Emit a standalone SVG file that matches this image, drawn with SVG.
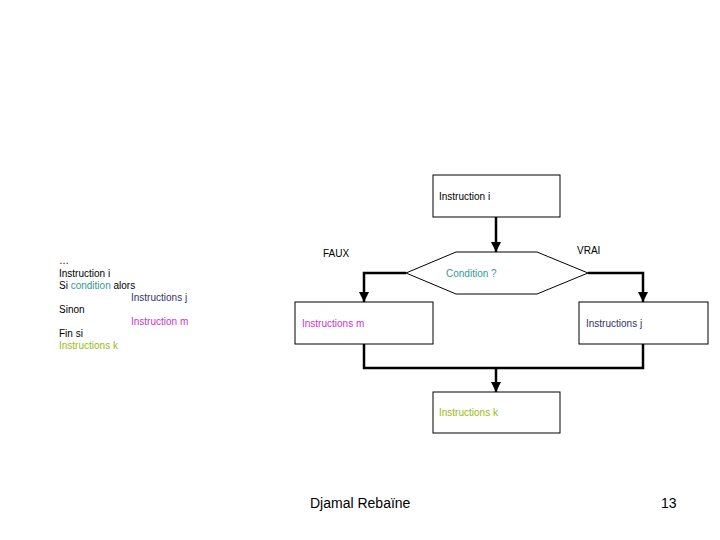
<svg xmlns="http://www.w3.org/2000/svg" width="720" height="540" viewBox="0 0 720 540">
<style>
text{font-family:"Liberation Sans",Arial,sans-serif;font-size:10px;fill:#000}
.b{fill:#fff;stroke:#000;stroke-width:1}
.c{fill:none;stroke:#000;stroke-width:2.5}
.t{fill:#339999}.m{fill:#cc33cc}.j{fill:#333366}.k{fill:#99bb11}
</style>
<defs><marker id="a" markerWidth="4" markerHeight="4" refX="2" refY="3" orient="auto" markerUnits="strokeWidth" viewBox="0 0 4 4"><path d="M0,0L4,0L2,4Z" transform="rotate(-90 2 2)" fill="#000"/></marker>
<marker id="d" viewBox="0 0 10 10" refX="5" refY="10" markerWidth="10" markerHeight="10" markerUnits="userSpaceOnUse"><path d="M0,0H10L5,10Z" fill="#000"/></marker></defs>
<rect width="720" height="540" fill="#fff"/>
<g id="connectors">
<path class="c" d="M496,217V252" marker-end="url(#d)"/>
<path class="c" d="M406,273H364V302" marker-end="url(#d)"/>
<path class="c" d="M588,273H643V302" marker-end="url(#d)"/>
<path class="c" d="M364,344V368H643V344"/>
<path class="c" d="M496,368V392" marker-end="url(#d)"/>
</g>
<g id="n1"><rect class="b" x="433" y="175" width="127" height="42"/><text x="439" y="200">Instruction i</text></g>
<g id="n2"><polygon class="b" points="456,252 537,252 588,273 537,294 456,294 406,273"/><text class="t" x="446" y="277">Condition ?</text></g>
<g id="n3"><rect class="b" x="295" y="302" width="138" height="42"/><text class="m" x="302" y="327">Instructions m</text></g>
<g id="n4"><rect class="b" x="579" y="302" width="129" height="42"/><text class="j" x="586" y="327">Instructions j</text></g>
<g id="n5"><rect class="b" x="433" y="392" width="127" height="41"/><text class="k" x="439" y="416">Instructions k</text></g>
<text x="323" y="257">FAUX</text>
<text x="577" y="254">VRAI</text>
<text x="59" y="264">…</text>
<text x="59" y="277">Instruction i</text>
<text x="59" y="289">Si <tspan class="t">condition</tspan> alors</text>
<text class="j" x="131" y="301">Instructions j</text>
<text x="59" y="313">Sinon</text>
<text class="m" x="131" y="325">Instruction m</text>
<text x="59" y="337">Fin si</text>
<text class="k" x="59" y="349">Instructions k</text>
<text x="310" y="508" style="font-size:14px">Djamal Rebaïne</text>
<text x="661" y="508" style="font-size:14px">13</text>
</svg>
